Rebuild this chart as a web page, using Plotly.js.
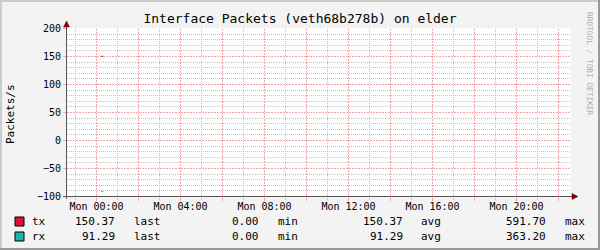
<!DOCTYPE html>
<html>
<head>
<meta charset="utf-8">
<script src="https://cdn.plot.ly/plotly-3.0.1.min.js"></script>
<style>
html,body{margin:0;padding:0;background:#f3f3f3;}
#chart{width:600px;height:250px;}
</style>
</head>
<body>
<div id="chart"></div>
<script>
// ---- data ----
var seriesNames = ['tx', 'rx'];
var seriesColors = ['#dc143c', '#20b2aa'];
var sampleTimes = ['2024-01-01 00:13:00', '2024-01-01 00:19:00'];
var txValues = [150.37, 150.37];
var rxValues = [91.29, 91.29];          // plotted mirrored below zero
var lastVals = [150.37, 91.29];
var minVals = [0.00, 0.00];
var avgVals = [150.37, 91.29];
var maxVals = [591.70, 363.20];
var tickTimes = ['2024-01-01 00:00', '2024-01-01 02:00', '2024-01-01 04:00', '2024-01-01 06:00',
                 '2024-01-01 08:00', '2024-01-01 10:00', '2024-01-01 12:00', '2024-01-01 14:00',
                 '2024-01-01 16:00', '2024-01-01 18:00', '2024-01-01 20:00', '2024-01-01 22:00'];
var tickLabels = ['Mon 00:00', '', 'Mon 04:00', '', 'Mon 08:00', '', 'Mon 12:00', '',
                  'Mon 16:00', '', 'Mon 20:00', ''];
var xRange = ['2023-12-31 22:35:42.857', '2024-01-01 22:35:42.857'];
var yRange = [-100, 200];

// ---- layout helpers (pixel -> paper) ----
var L = 67, R = 571, PT = 28, PB = 197;
function px(x) { return (x - L) / (R - L); }
function py(y) { return (PB - y) / (PB - PT); }
var mono = 'DejaVu Sans Mono, monospace';

// minor grid positions that do not coincide with major ones
var minorX = [];
for (var h = -1; h <= 23; h += 2) {
  var d = new Date(Date.UTC(2024, 0, 1, h, 0, 0));
  minorX.push(d.toISOString().replace('T', ' ').slice(0, 16));
}
var minorY = [];
for (var v = -100; v <= 200; v += 10) { if (v % 50 !== 0) minorY.push(v); }

var traces = [
  {x: sampleTimes, y: txValues, type: 'scatter', mode: 'lines', name: seriesNames[0],
   line: {color: seriesColors[0], width: 1}, hoverinfo: 'skip'},
  {x: sampleTimes, y: rxValues.map(function (v) { return -v; }), type: 'scatter', mode: 'lines',
   name: seriesNames[1], line: {color: seriesColors[1], width: 1}, hoverinfo: 'skip'}
];

var shapes = [
  // frame
  {type: 'rect', xref: 'paper', yref: 'paper', x0: px(0), x1: px(600), y0: py(0), y1: py(2), fillcolor: '#cbcbcb', line: {width: 0}, layer: 'below'},
  {type: 'rect', xref: 'paper', yref: 'paper', x0: px(0), x1: px(2), y0: py(0), y1: py(250), fillcolor: '#cbcbcb', line: {width: 0}, layer: 'below'},
  {type: 'rect', xref: 'paper', yref: 'paper', x0: px(0), x1: px(600), y0: py(248), y1: py(250), fillcolor: '#999999', line: {width: 0}, layer: 'below'},
  {type: 'rect', xref: 'paper', yref: 'paper', x0: px(598), x1: px(600), y0: py(0), y1: py(250), fillcolor: '#999999', line: {width: 0}, layer: 'below'},
  // axes
  {type: 'line', xref: 'paper', yref: 'paper', x0: px(66.5), x1: px(66.5), y0: py(199), y1: py(23), line: {color: '#555555', width: 1}},
  {type: 'line', xref: 'paper', yref: 'paper', x0: px(63), x1: px(576), y0: py(196.5), y1: py(196.5), line: {color: '#555555', width: 1}},
  // arrows
  {type: 'path', xref: 'paper', yref: 'paper',
   path: 'M' + px(63.5) + ',' + py(27) + ' L' + px(66.5) + ',' + py(21) + ' L' + px(69.5) + ',' + py(27) + ' Z',
   fillcolor: '#7f0000', line: {color: '#7f0000', width: 0.5}},
  {type: 'path', xref: 'paper', yref: 'paper',
   path: 'M' + px(572) + ',' + py(193.5) + ' L' + px(578) + ',' + py(196.5) + ' L' + px(572) + ',' + py(199.5) + ' Z',
   fillcolor: '#7f0000', line: {color: '#7f0000', width: 0.5}}
];

var annotations = [
  {text: 'Packets/s', xref: 'paper', yref: 'paper', x: px(11), y: py(114), textangle: -90,
   showarrow: false, xanchor: 'center', yanchor: 'middle', font: {family: mono, size: 11, color: '#000'}},
  {text: 'RRDTOOL / TOBI OETIKER', xref: 'paper', yref: 'paper', x: px(589), y: py(64), textangle: 90,
   showarrow: false, xanchor: 'center', yanchor: 'middle', font: {family: mono, size: 7.8, color: '#adadad'}}
];

var rowY = [221.5, 236.5];
function fmt(v) { return v.toFixed(2); }
for (var i = 0; i < seriesNames.length; i++) {
  var y = py(rowY[i]);
  shapes.push({type: 'rect', xref: 'paper', yref: 'paper', x0: px(15), x1: px(24), y0: py(rowY[i] - 4.5), y1: py(rowY[i] + 4.5),
               fillcolor: seriesColors[i], line: {color: '#000', width: 1}});
  var items = [
    [seriesNames[i], 30, 'left'],
    [fmt(lastVals[i]), 117, 'right'], ['last', 132, 'left'],
    [fmt(minVals[i]), 261, 'right'], ['min', 276, 'left'],
    [fmt(avgVals[i]), 405, 'right'], ['avg', 419, 'left'],
    [fmt(maxVals[i]), 548, 'right'], ['max', 563, 'left']
  ];
  items.forEach(function (it) {
    annotations.push({text: it[0], xref: 'paper', yref: 'paper', x: px(it[1]), y: y, showarrow: false,
      xanchor: it[2], yanchor: 'middle', font: {family: mono, size: 11, color: '#000'}});
  });
}

var majorGrid = 'rgb(245,165,165)';
var minorGrid = 'rgb(195,195,195)';

var layout = {
  width: 600, height: 250,
  paper_bgcolor: '#f3f3f3', plot_bgcolor: '#ffffff',
  margin: {l: L, r: 600 - R, t: PT, b: 250 - PB, pad: 0},
  showlegend: false,
  title: {text: 'Interface Packets (veth68b278b) on elder', x: 0.5, xref: 'container', xanchor: 'center',
          y: 1 - 18.5 / 250, yref: 'container', yanchor: 'middle',
          font: {family: mono, size: 13, color: '#000'}},
  xaxis: {type: 'date', range: xRange, fixedrange: true,
    tickmode: 'array', tickvals: tickTimes, ticktext: tickLabels,
    showgrid: true, gridcolor: majorGrid, griddash: '2px,1px', gridwidth: 1,
    ticks: 'outside', ticklen: 3, tickcolor: majorGrid, ticklabelstandoff: -3,
    tickfont: {family: mono, size: 10, color: '#000'},
    showline: false, zeroline: false,
    minor: {tickmode: 'array', tickvals: minorX, showgrid: true, gridcolor: minorGrid, griddash: '1px,1px', gridwidth: 1,
            ticks: 'outside', ticklen: 2, tickcolor: minorGrid}
  },
  yaxis: {range: yRange, fixedrange: true, domain: [0.5 / 169, 1 - 0.5 / 169],
    tickmode: 'linear', tick0: 0, dtick: 50,
    showgrid: true, gridcolor: majorGrid, griddash: '2px,1px', gridwidth: 1,
    ticks: 'outside', ticklen: 3, tickcolor: majorGrid,
    tickfont: {family: mono, size: 10, color: '#000'},
    showline: false, zeroline: false,
    minor: {tickmode: 'array', tickvals: minorY, showgrid: true, gridcolor: minorGrid, griddash: '1px,1px', gridwidth: 1}
  },
  shapes: shapes,
  annotations: annotations
};

Plotly.newPlot('chart', traces, layout, {staticPlot: true, displayModeBar: false});
</script>
</body>
</html>
